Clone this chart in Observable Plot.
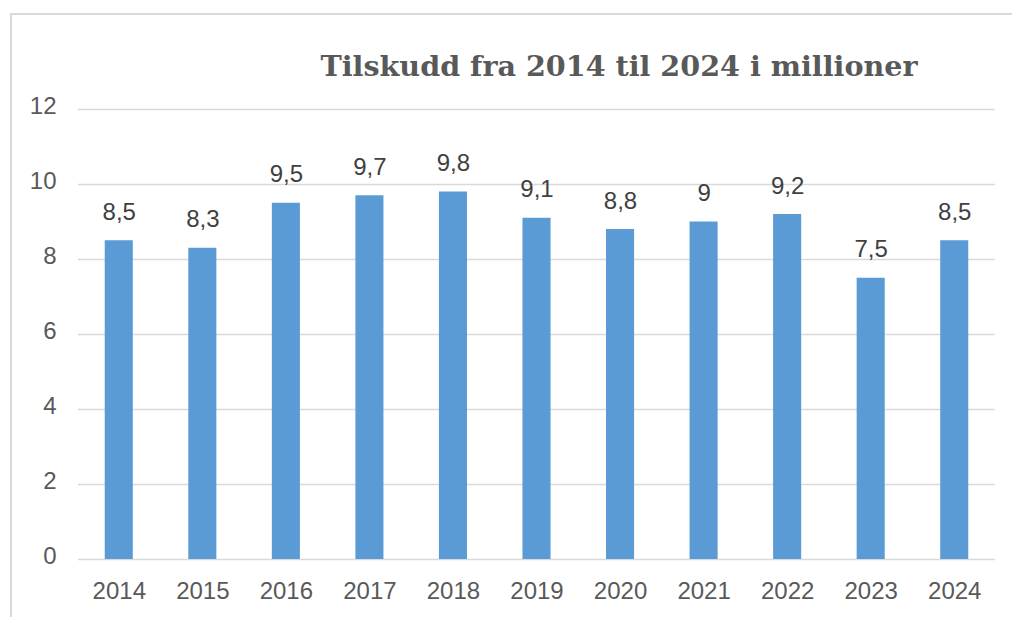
<!DOCTYPE html>
<html>
<head>
<meta charset="utf-8">
<script src="https://cdn.jsdelivr.net/npm/d3@7"></script>
<script src="https://cdn.jsdelivr.net/npm/@observablehq/plot@0.6"></script>
<style>
  html, body { margin: 0; padding: 0; background: #fff; }
  #wrap { position: relative; width: 1012px; height: 617px; overflow: hidden; }
  #frame { position: absolute; left: 10px; top: 13px; width: 1100px; height: 700px;
           border-top: 2px solid #d9d9d9; border-left: 2px solid #d9d9d9; box-sizing: border-box; }
  #title { position: absolute; left: 319px; top: 49px; width: 600px; text-align: center;
           font-family: "DejaVu Serif", serif; font-weight: bold; font-size: 28.6px; color: #595959;
           white-space: nowrap; line-height: 1.2; }
  #chart { position: absolute; left: 0; top: 0; }
</style>
</head>
<body>
<div id="wrap">
  <div id="frame"></div>
  <div id="chart"></div>
  <div id="title">Tilskudd fra 2014 til 2024 i millioner</div>
</div>
<script>
const years = ["2014","2015","2016","2017","2018","2019","2020","2021","2022","2023","2024"];
const values = [8.5, 8.3, 9.5, 9.7, 9.8, 9.1, 8.8, 9, 9.2, 7.5, 8.5];
const yTicks = [0, 2, 4, 6, 8, 10, 12];

const data = years.map((y, i) => ({year: y, value: values[i]}));
const fmt = v => String(v).replace(".", ",");

const chart = Plot.plot({
  width: 1012,
  height: 617,
  marginLeft: 78,
  marginRight: 17,
  marginTop: 109,
  marginBottom: 58,
  style: {fontFamily: "'Liberation Sans', Arial, sans-serif", fontSize: "24px", background: "transparent", overflow: "visible"},
  x: {domain: years, paddingInner: 0.664, paddingOuter: 0.32, round: false, label: null},
  y: {domain: [0, 12], label: null},
  marks: [
    Plot.ruleY(yTicks, {stroke: "#d9d9d9", strokeWidth: 1.5}),
    Plot.barY(data, {x: "year", y: "value", fill: "#5b9bd5"}),
    Plot.text(data, {x: "year", y: "value", text: d => fmt(d.value), lineAnchor: "bottom", dy: -21, fill: "#404040", fontSize: 24}),
    Plot.axisY(yTicks, {tickSize: 0, tickPadding: 22, color: "#595959", fontSize: 24, dy: -3, label: null}),
    Plot.axisX({tickSize: 0, tickPadding: 22, color: "#595959", fontSize: 24, label: null})
  ]
});
document.getElementById("chart").appendChild(chart);
</script>
</body>
</html>
